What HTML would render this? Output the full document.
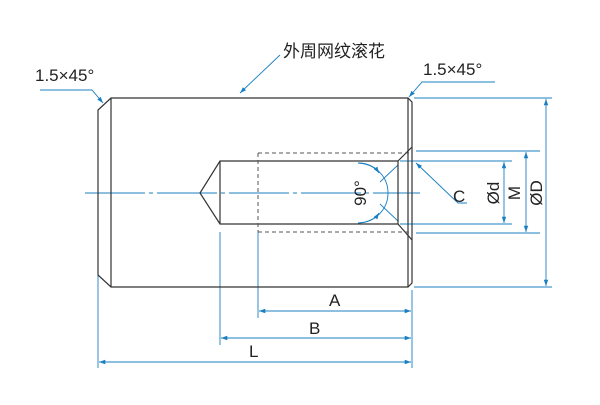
<!DOCTYPE html>
<html><head><meta charset="utf-8"><style>
body{margin:0;background:#fff}
text{font-family:"Liberation Sans","Noto Sans CJK SC",sans-serif;fill:#222}
</style></head><body>
<svg width="600" height="400" viewBox="0 0 600 400" xmlns="http://www.w3.org/2000/svg">
<defs>
<marker id="a" viewBox="0 0 10 10" refX="10" refY="5" markerWidth="7" markerHeight="7" orient="auto-start-reverse"><path d="M0,1.5L10,5L0,8.5z" fill="#1a7fc1"/></marker>
</defs>
<g stroke="#1a7fc1" stroke-width="0.9" fill="none">
<line x1="85" y1="193" x2="420" y2="193" stroke-dasharray="60 4 4 4"/>
<polyline points="40,90 92,90 103,103" marker-end="url(#a)"/>
<polyline points="495,82 422,82 409,97" marker-end="url(#a)"/>
<line x1="280" y1="55" x2="240" y2="93" marker-end="url(#a)"/>
<polyline points="467,203 458,203 416,163" marker-end="url(#a)"/>
<line x1="414" y1="98" x2="552" y2="98"/>
<line x1="414" y1="287" x2="552" y2="287"/>
<line x1="416" y1="151" x2="540" y2="151"/>
<line x1="416" y1="233" x2="540" y2="233"/>
<line x1="400" y1="161" x2="512" y2="161"/>
<line x1="400" y1="224" x2="512" y2="224"/>
<line x1="546" y1="99" x2="546" y2="286" marker-start="url(#a)" marker-end="url(#a)"/>
<line x1="526" y1="152" x2="526" y2="232" marker-start="url(#a)" marker-end="url(#a)"/>
<line x1="504" y1="162" x2="504" y2="223" marker-start="url(#a)" marker-end="url(#a)"/>
<line x1="98" y1="275" x2="98" y2="368"/>
<line x1="220" y1="232" x2="220" y2="345"/>
<line x1="258" y1="232" x2="258" y2="318"/>
<line x1="412" y1="290" x2="412" y2="368"/>
<line x1="259" y1="311" x2="411" y2="311" marker-start="url(#a)" marker-end="url(#a)"/>
<line x1="221" y1="338" x2="411" y2="338" marker-start="url(#a)" marker-end="url(#a)"/>
<line x1="99" y1="362" x2="411" y2="362" marker-start="url(#a)" marker-end="url(#a)"/>
<path d="M358,163 A30,30 0 0 1 358,223"/>
<path d="M358,163 Q373,164 379,173" marker-end="url(#a)"/>
<path d="M358,223 Q373,222 379,213" marker-end="url(#a)"/>
<line x1="380" y1="182" x2="398" y2="165"/>
<line x1="380" y1="204" x2="398" y2="221"/>
</g>
<g stroke="#333" stroke-width="1.2" fill="none">
<path d="M111,98 L408,98 L412,102 L412,283 L408,287 L111,287 L98,275 L98,110 Z"/>
<line x1="111" y1="98" x2="111" y2="287"/>
<line x1="408" y1="98" x2="408" y2="287"/>
<path d="M398,161 L220,161 L200,193 L220,224 L398,224"/>
<line x1="220" y1="161" x2="220" y2="224"/>
<line x1="398" y1="161" x2="398" y2="224"/>
<line x1="398" y1="161" x2="412" y2="147"/>
<line x1="398" y1="224" x2="412" y2="240"/>
</g>
<g stroke="#555" stroke-width="1" stroke-dasharray="4 3" fill="none">
<line x1="258" y1="153" x2="410" y2="153"/>
<line x1="258" y1="232" x2="410" y2="232"/>
<line x1="258" y1="153" x2="258" y2="232"/>
</g>
<text x="283" y="57" font-size="17">外周网纹滚花</text>
<text x="35" y="81" font-size="17">1.5×45°</text>
<text x="423" y="75" font-size="17">1.5×45°</text>
<text x="453" y="202" font-size="17">C</text>
<text x="329" y="306" font-size="17">A</text>
<text x="309" y="334" font-size="17">B</text>
<text x="249" y="357" font-size="17">L</text>
<text transform="translate(366,193) rotate(-90)" text-anchor="middle" font-size="17">90°</text>
<text transform="translate(499,193) rotate(-90)" text-anchor="middle" font-size="17">Ød</text>
<text transform="translate(520,193) rotate(-90)" text-anchor="middle" font-size="17">M</text>
<text transform="translate(542,193) rotate(-90)" text-anchor="middle" font-size="17">ØD</text>
</svg>
</body></html>
